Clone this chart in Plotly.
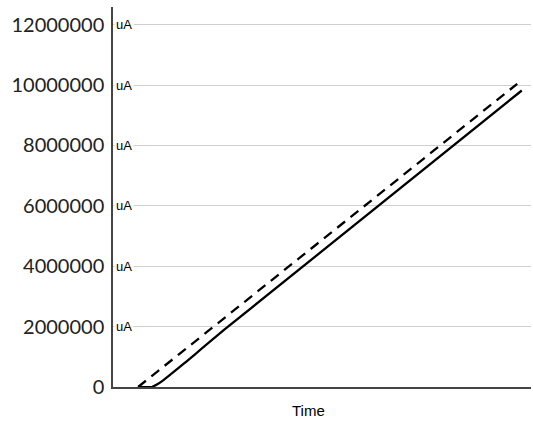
import plotly.graph_objects as go

# Data
time_dashed = [6.0, 96.7]
current_dashed = [0, 10040000]

time_solid = [6.0, 9.3, 10.5, 12.0, 14.0, 17.0, 27.0, 97.8]
current_solid = [0, 0, 80000, 220000, 440000, 780000, 1940000, 9820000]

y_ticks = [0, 2000000, 4000000, 6000000, 8000000, 10000000, 12000000]
y_tick_labels = ["0", "2000000", "4000000", "6000000", "8000000", "10000000", "12000000"]
unit_label = "uA"
x_title = "Time"

fig = go.Figure()
fig.add_trace(go.Scatter(x=time_dashed, y=current_dashed, mode="lines",
                         line=dict(color="black", width=2.3, dash="10px,7px"),
                         showlegend=False, hoverinfo="skip"))
fig.add_trace(go.Scatter(x=time_solid, y=current_solid, mode="lines",
                         line=dict(color="black", width=2.3, shape="spline", smoothing=0.6),
                         showlegend=False, hoverinfo="skip"))

for v in y_ticks[1:]:
    fig.add_annotation(x=0.003, xref="paper", y=v, yref="y", text=unit_label,
                       showarrow=False, xanchor="left", yanchor="middle",
                       font=dict(family="Liberation Sans, Arial", size=13, color="black"),
                       bgcolor="white", borderpad=1)

fig.add_annotation(x=0.468, xref="paper", y=-0.035, yref="paper", text=x_title,
                   showarrow=False, xanchor="center", yanchor="top",
                   font=dict(family="Liberation Sans, Arial", size=15, color="black"))

fig.update_layout(
    width=533, height=421,
    margin=dict(l=113, r=2, t=7, b=34),
    plot_bgcolor="white", paper_bgcolor="white",
    xaxis=dict(range=[0, 100], showgrid=False, zeroline=False, showticklabels=False,
               showline=True, linecolor="#444444", linewidth=1.5, ticks=""),
    yaxis=dict(range=[0, 12585000], tickvals=y_ticks, ticktext=y_tick_labels,
               showgrid=True, gridcolor="#cfcfcf", gridwidth=1, zeroline=False,
               showline=True, linecolor="#444444", linewidth=1.5,
               ticks="outside", ticklen=3, tickcolor="white",
               tickfont=dict(family="Lato, Liberation Sans", size=20, color="#222222")),
)

fig.write_html("out.html", config={"displayModeBar": False},
               post_script="document.body.style.margin='0';document.body.style.overflow='hidden';")
